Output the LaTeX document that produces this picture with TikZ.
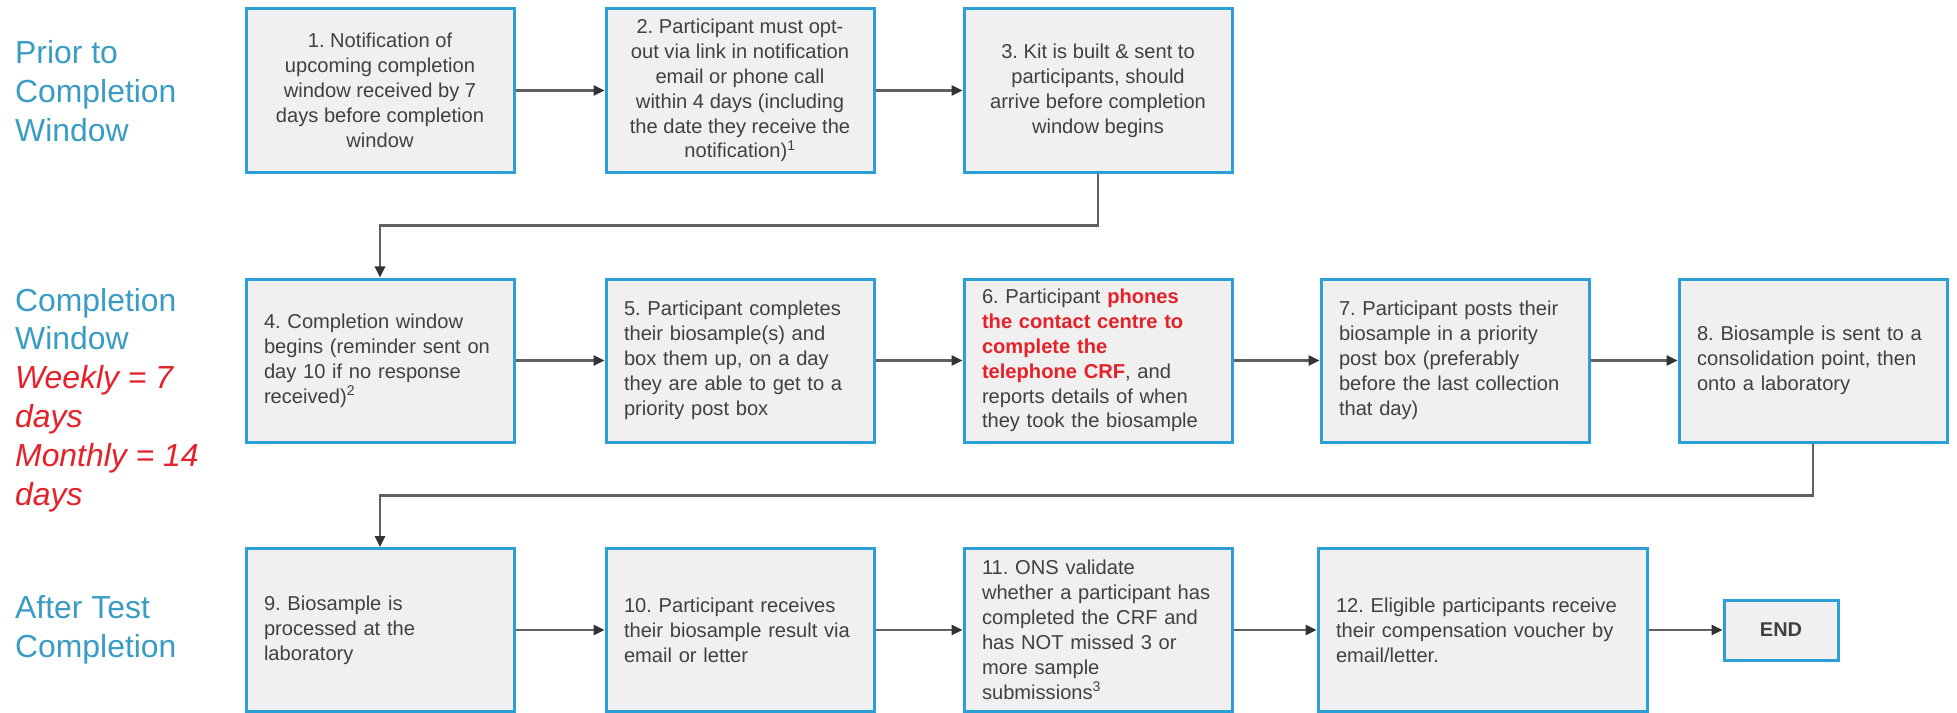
\documentclass[tikz,border=0pt]{standalone}
\usepackage{fontspec}
\setmainfont{Liberation Sans}
\usetikzlibrary{arrows.meta}
\definecolor{lblblue}{HTML}{3A9CC4}
\definecolor{boxblue}{HTML}{2B9FD6}
\definecolor{boxfill}{HTML}{F0F0F0}
\definecolor{txtgray}{HTML}{404040}
\definecolor{redtxt}{HTML}{E52129}
\definecolor{linegray}{HTML}{606060}
\definecolor{tipgray}{HTML}{333333}
\frenchspacing
\begin{document}
\begin{tikzpicture}[x=1bp,y=-1bp,
  box/.style={draw=boxblue, line width=3bp, fill=boxfill, minimum width=268bp, minimum height=163bp, inner sep=0pt, text=txtgray, font=\fontsize{20.2}{25}\selectfont},
  cbox/.style={box, align=center},
  lbox/.style={box, align=left, text width=232bp},
  conn/.style={draw=linegray, line width=2.5bp, -{Triangle[length=11bp,width=10bp,color=tipgray]}},
  lbl/.style={anchor=west, align=left, text=lblblue, font=\fontsize{32}{39}\selectfont, inner sep=0pt},
]
\fill[white] (0,0) rectangle (1957,713);
\useasboundingbox (0,0) rectangle (1957,713);

% left labels
\node[lbl] (l1) at (15,91) {Prior to\\Completion\\Window};
\node[lbl] (l2) at (15,400) {Completion\\Window\\\textcolor{redtxt}{\itshape Weekly = 7}\\\textcolor{redtxt}{\itshape days}\\\textcolor{redtxt}{\itshape Monthly = 14}\\\textcolor{redtxt}{\itshape days}};
\node[lbl] (l3) at (15,630) {After Test\\Completion};

% row 1
\node[cbox] (b1) at (380,90.5) {1. Notification of\\upcoming completion\\window received by 7\\days before completion\\window};
\node[cbox] (b2) at (740,90.5) {2. Participant must opt-\\out via link in notification\\email or phone call\\within 4 days (including\\the date they receive the\\notification)\textsuperscript{1}};
\node[cbox] (b3) at (1098,90.5) {3. Kit is built \& sent to\\participants, should\\arrive before completion\\window begins};

% row 2
\node[lbox] (b4) at (380,360.5) {4. Completion window\\begins (reminder sent on\\day 10 if no response\\received)\textsuperscript{2}};
\node[lbox] (b5) at (740,360.5) {5. Participant completes\\their biosample(s) and\\box them up, on a day\\they are able to get to a\\priority post box};
\node[lbox] (b6) at (1098,360.5) {6. Participant \textcolor{redtxt}{\bfseries phones}\\\textcolor{redtxt}{\bfseries the contact centre to}\\\textcolor{redtxt}{\bfseries complete the}\\\textcolor{redtxt}{\bfseries telephone CRF}, and\\reports details of when\\they took the biosample};
\node[lbox] (b7) at (1455,360.5) {7. Participant posts their\\biosample in a priority\\post box (preferably\\before the last collection\\that day)};
\node[lbox] (b8) at (1813,360.5) {8. Biosample is sent to a\\consolidation point, then\\onto a laboratory};

% row 3
\node[lbox] (b9) at (380,630) {9. Biosample is\\processed at the\\laboratory};
\node[lbox] (b10) at (740,630) {10. Participant receives\\their biosample result via\\email or letter};
\node[lbox] (b11) at (1098,630) {11. ONS validate\\whether a participant has\\completed the CRF and\\has NOT missed 3 or\\more sample\\submissions\textsuperscript{3}};
\node[lbox, minimum width=329bp, text width=293bp] (b12) at (1482.5,630) {12. Eligible participants receive\\their compensation voucher by\\email/letter.};
\node[box, minimum width=114bp, minimum height=60bp, font=\fontsize{20}{24}\selectfont\bfseries] (e) at (1781,630) {END};

% connectors
\draw[conn] (b1.east) -- (b2.west);
\draw[conn] (b2.east) -- (b3.west);
\draw[conn] (b3.south) -- ++(0,52) -| (b4.north);
\draw[conn] (b4.east) -- (b5.west);
\draw[conn] (b5.east) -- (b6.west);
\draw[conn] (b6.east) -- (b7.west);
\draw[conn] (b7.east) -- (b8.west);
\draw[conn] (b8.south) -- ++(0,52) -| (b9.north);
\draw[conn] (b9.east) -- (b10.west);
\draw[conn] (b10.east) -- (b11.west);
\draw[conn] (b11.east) -- (b12.west);
\draw[conn] (b12.east) -- (e.west);
\end{tikzpicture}
\end{document}
